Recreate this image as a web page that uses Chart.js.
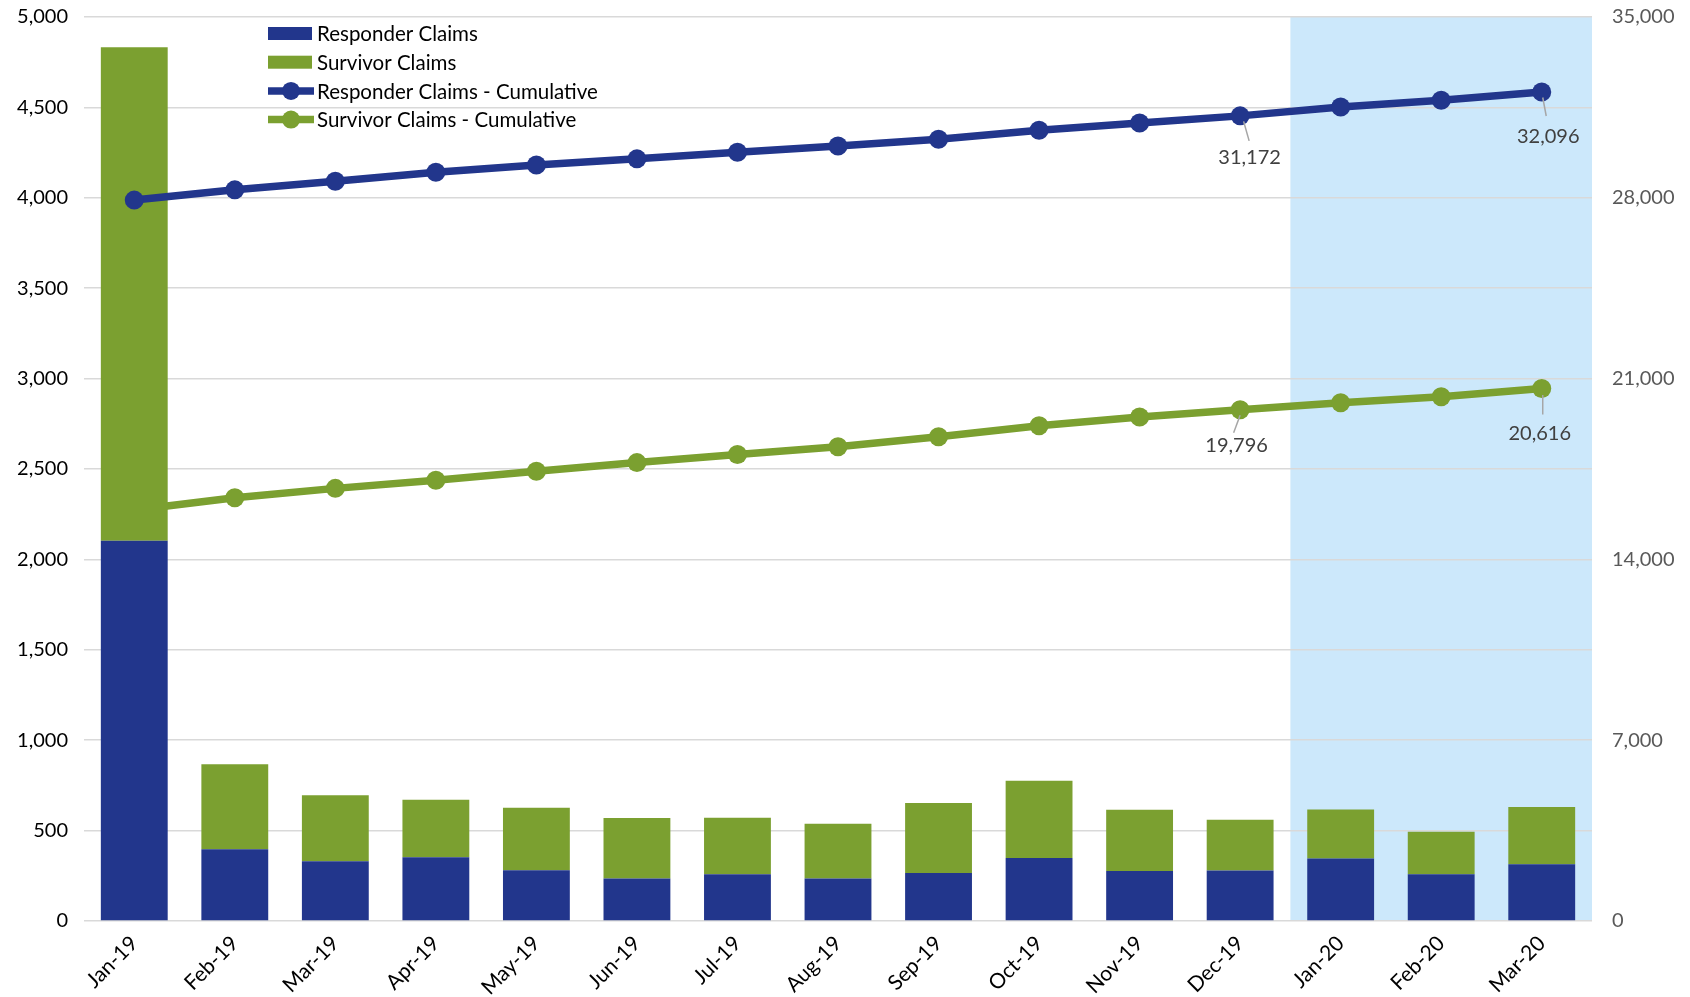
<!DOCTYPE html>
<html>
<head>
<meta charset="utf-8">
<script src="https://cdn.jsdelivr.net/npm/chart.js@4.4.1/dist/chart.umd.min.js"></script>
<style>
body { margin: 0; background: #fff; }
#wrap { width: 1690px; height: 997px; }
</style>
</head>
<body>
<div id="wrap"><canvas id="claimsChart" width="1690" height="997"></canvas></div>
<script>
// data

var months = ["Jan-19", "Feb-19", "Mar-19", "Apr-19", "May-19", "Jun-19", "Jul-19", "Aug-19",
              "Sep-19", "Oct-19", "Nov-19", "Dec-19", "Jan-20", "Feb-20", "Mar-20"];

var responderClaims     = [2103, 397, 331, 353, 281, 235, 259, 235, 266, 348, 277, 279, 346, 259, 314];
var survivorClaims      = [2730, 470, 364, 318, 346, 334, 312, 303, 386, 428, 338, 281, 271, 235, 316];
var responderCumulative = [27911, 28308, 28639, 28992, 29273, 29508, 29767, 30002, 30268, 30616, 30893, 31172, 31518, 31777, 32096];
var survivorCumulative  = [15916, 16386, 16750, 17068, 17414, 17748, 18060, 18363, 18749, 19177, 19515, 19796, 20067, 20300, 20616];

var leftTicks  = [0, 500, 1000, 1500, 2000, 2500, 3000, 3500, 4000, 4500, 5000];
var rightTicks = [0, 7000, 14000, 21000, 28000, 35000];

var highlightFrom = "Jan-20";

// styles

var navy = "#22368C";
var green = "#7BA030";
var fontName = "Lato, 'Noto Sans', sans-serif";

// light blue box behind the last months
var highlightPlugin = {
    id: "highlight",
    beforeDraw: function(chart) {
        var ctx = chart.ctx;
        var x = chart.scales.x;
        var area = chart.chartArea;
        var i = months.indexOf(highlightFrom);
        var left = (x.getPixelForValue(i - 1) + x.getPixelForValue(i)) / 2;
        ctx.save();
        ctx.fillStyle = "#CCE8FB";
        ctx.fillRect(left, area.top, area.right - left, area.bottom - area.top);
        ctx.restore();
    }
};

// value labels with little leader lines
var callouts = [
    { ds: 2, idx: 11, lx: 9.5, ly: 41.5, a: [3.5, 5.5], b: [9, 25] },
    { ds: 2, idx: 14, lx: 6.5, ly: 44.5, a: [1, 5.5], b: [4.5, 24] },
    { ds: 3, idx: 11, lx: -3.5, ly: 36, a: [0, 5.5], b: [-6.5, 23] },
    { ds: 3, idx: 14, lx: -2, ly: 45.5, a: [1, 6.5], b: [1, 26] }
];

var calloutPlugin = {
    id: "callouts",
    afterDatasetsDraw: function(chart) {
        var ctx = chart.ctx;
        ctx.save();
        callouts.forEach(function(c) {
            var pt = chart.getDatasetMeta(c.ds).data[c.idx];
            var value = chart.data.datasets[c.ds].data[c.idx];
            ctx.strokeStyle = "#A6A6A6";
            ctx.lineWidth = 1.5;
            ctx.beginPath();
            ctx.moveTo(pt.x + c.a[0], pt.y + c.a[1]);
            ctx.lineTo(pt.x + c.b[0], pt.y + c.b[1]);
            ctx.stroke();
            ctx.fillStyle = "#404040";
            ctx.font = "20px " + fontName;
            ctx.textAlign = "center";
            ctx.textBaseline = "middle";
            ctx.fillText(value.toLocaleString("en-US"), pt.x + c.lx, pt.y + c.ly);
        });
        ctx.restore();
    }
};

// legend inside the plot, top left
var legendPlugin = {
    id: "innerLegend",
    afterDraw: function(chart) {
        var ctx = chart.ctx;
        var x0 = 268, y0 = 33.5, rowH = 28.7;
        ctx.save();
        ctx.font = "20.5px " + fontName;
        ctx.textBaseline = "middle";
        ctx.textAlign = "left";
        chart.data.datasets.forEach(function(ds, i) {
            var y = y0 + i * rowH;
            if (ds.type === "line") {
                ctx.strokeStyle = ds.borderColor;
                ctx.lineWidth = 7.5;
                ctx.beginPath();
                ctx.moveTo(x0, y);
                ctx.lineTo(x0 + 46, y);
                ctx.stroke();
                ctx.fillStyle = ds.borderColor;
                ctx.beginPath();
                ctx.arc(x0 + 23, y, 9, 0, Math.PI * 2);
                ctx.fill();
            } else {
                ctx.fillStyle = ds.backgroundColor;
                ctx.fillRect(x0, y - 6.5, 44, 13);
            }
            ctx.fillStyle = "#000";
            ctx.fillText(ds.label, x0 + 49, y + 1);
        });
        ctx.restore();
    }
};

// fixed axis sizes so the plot area lands where it should
function fixWidth(w) {
    return function(scale) {
        scale.width = w;
        scale.paddingTop = 0;
        scale.paddingBottom = 0;
    };
}

var ctx1 = document.getElementById("claimsChart");
var claimsChart = new Chart(ctx1.getContext("2d"), {
    type: "bar",
    data: {
        labels: months,
        datasets: [{
            type: "bar",
            label: "Responder Claims",
            data: responderClaims,
            backgroundColor: navy,
            yAxisID: "y",
            order: 2
        }, {
            type: "bar",
            label: "Survivor Claims",
            data: survivorClaims,
            backgroundColor: green,
            yAxisID: "y",
            order: 2
        }, {
            type: "line",
            label: "Responder Claims - Cumulative",
            data: responderCumulative,
            borderColor: navy,
            backgroundColor: navy,
            borderWidth: 7.5,
            pointRadius: 9.5,
            pointBorderWidth: 0,
            pointBackgroundColor: navy,
            yAxisID: "y1",
            order: 1
        }, {
            type: "line",
            label: "Survivor Claims - Cumulative",
            data: survivorCumulative,
            borderColor: green,
            backgroundColor: green,
            borderWidth: 7.5,
            pointRadius: 9.5,
            pointBorderWidth: 0,
            pointBackgroundColor: green,
            yAxisID: "y1",
            order: 3
        }]
    },
    options: {
        responsive: false,
        animation: false,
        layout: { padding: { top: 17, left: 0, right: 0, bottom: 0 } },
        datasets: {
            bar: { categoryPercentage: 1.0, barPercentage: 0.665, borderWidth: 0 }
        },
        plugins: {
            legend: { display: false },
            tooltip: { enabled: false }
        },
        scales: {
            x: {
                stacked: true,
                grid: { display: false },
                border: { display: false },
                ticks: {
                    color: "#000",
                    font: { family: fontName, size: 21 },
                    minRotation: 45,
                    maxRotation: 45,
                    padding: 2
                },
                afterFit: function(scale) { scale.height = 76; }
            },
            y: {
                stacked: true,
                position: "left",
                min: 0,
                max: 5000,
                afterBuildTicks: function(scale) {
                    scale.ticks = leftTicks.map(function(v) { return { value: v }; });
                },
                grid: { color: "#D9D9D9", lineWidth: 1.5, drawTicks: false },
                border: { display: false },
                ticks: {
                    color: "#000",
                    font: { family: fontName, size: 20 },
                    padding: 16,
                    callback: function(v) { return v.toLocaleString("en-US"); }
                },
                afterFit: fixWidth(84)
            },
            y1: {
                stacked: false,
                position: "right",
                min: 0,
                max: 35000,
                afterBuildTicks: function(scale) {
                    scale.ticks = rightTicks.map(function(v) { return { value: v }; });
                },
                grid: { display: false, drawTicks: false },
                border: { display: false },
                ticks: {
                    color: "#595959",
                    font: { family: fontName, size: 20 },
                    padding: 20,
                    callback: function(v) { return v.toLocaleString("en-US"); }
                },
                afterFit: fixWidth(98)
            }
        }
    },
    plugins: [highlightPlugin, calloutPlugin, legendPlugin]
});
</script>
</body>
</html>
